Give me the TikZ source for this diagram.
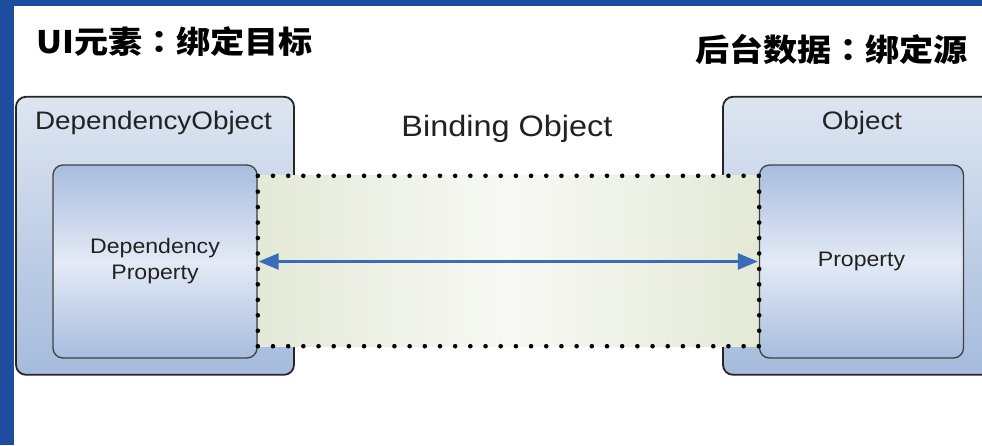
\documentclass[tikz,border=0pt]{standalone}
\usepackage{fontspec}
\usepackage{graphicx}
\setmainfont{Liberation Sans}
\newfontfamily\cjk{Noto Sans CJK TC}
\usetikzlibrary{arrows.meta}
\definecolor{frameblue}{RGB}{30,76,158}
\definecolor{outtop}{RGB}{221,229,241}
\definecolor{outbot}{RGB}{166,187,220}
\definecolor{intop}{RGB}{167,189,222}
\definecolor{inmid}{RGB}{228,234,246}
\definecolor{bindedge}{RGB}{228,233,215}
\definecolor{bindmid}{RGB}{248,249,245}
\definecolor{arrblue}{RGB}{58,108,184}
\definecolor{txt}{RGB}{34,34,34}
\newcommand{\wide}[1]{\scalebox{1.1}[1]{#1}}
\tikzset{
  outerbox/.style={draw=black!85, line width=1.8pt, rounded corners=10pt,
    top color=outtop, bottom color=outbot, minimum width=278pt, minimum height=278pt, inner sep=0pt},
  innerbox/.style={draw=black!75, line width=1.3pt, rounded corners=10pt,
    top color=intop, bottom color=intop, middle color=inmid,
    minimum width=204pt, minimum height=193pt, inner sep=0pt, text=txt, align=center,
    font=\fontsize{21}{26}\selectfont},
  bindbox/.style={left color=bindedge, right color=bindedge, middle color=bindmid,
    minimum width=501pt, minimum height=170pt, inner sep=0pt},
  dotmark/.style={fill=black},
  lbl/.style={text=txt, inner sep=0pt, anchor=base},
  title/.style={text=black, inner sep=0pt},
  arr/.style={draw=arrblue, line width=2.4pt, {Triangle[length=20pt,width=16pt]}-{Triangle[length=20pt,width=16pt]}, shorten <=1pt, shorten >=1pt}
}
\begin{document}
\begin{tikzpicture}[x=1pt,y=1pt]
\useasboundingbox (0,0) rectangle (982,445);
\clip (0,0) rectangle (982,445);
\fill[white] (0,0) rectangle (982,445);
% blue frame
\fill[frameblue] (0,439) rectangle (982,445);
\fill[frameblue] (0,0) rectangle (14,445);
% titles
\node[title, anchor=base west] (tl) at (36,391) {\wide{\cjk\bfseries\fontsize{31}{36}\selectfont UI元素：绑定目标}};
\node[title, anchor=base east] (tr) at (968,383) {\wide{\cjk\bfseries\fontsize{31}{36}\selectfont 后台数据：绑定源}};
% outer boxes
\node[outerbox] (outL) at (155,209.2) {};
\node[outerbox] (outR) at (862,209.2) {};
\node[lbl] (outLt) at (153.5,315) {\wide{\fontsize{25.3}{30}\selectfont DependencyObject}};
\node[lbl] (outRt) at (862,315) {\wide{\fontsize{25.3}{30}\selectfont Object}};
% binding object
\node[bindbox] (bind) at (508.5,184) {};
\node[lbl] (bindt) at (507,308.3) {\wide{\fontsize{29.5}{34}\selectfont Binding Object}};
% inner boxes
\node[innerbox] (inL) at (155,183.5) {\wide{Dependency}\\\wide{Property}};
\node[innerbox] (inR) at (861.5,183.5) {\wide{Property}};
% dotted border of the binding object
\foreach \i in {0,...,33} {
  \fill[dotmark] ([xshift=\i*15.1818pt]bind.south west) circle[radius=2.3pt];
  \fill[dotmark] ([xshift=\i*15.1818pt]bind.north west) circle[radius=2.3pt];
}
\foreach \j in {1,...,10} {
  \fill[dotmark] ([yshift=\j*15.4545pt]bind.south west) circle[radius=2.3pt];
  \fill[dotmark] ([yshift=\j*15.4545pt]bind.south east) circle[radius=2.3pt];
}
% arrow
\draw[arr] (inL.east) -- (inR.west);
\end{tikzpicture}
\end{document}
